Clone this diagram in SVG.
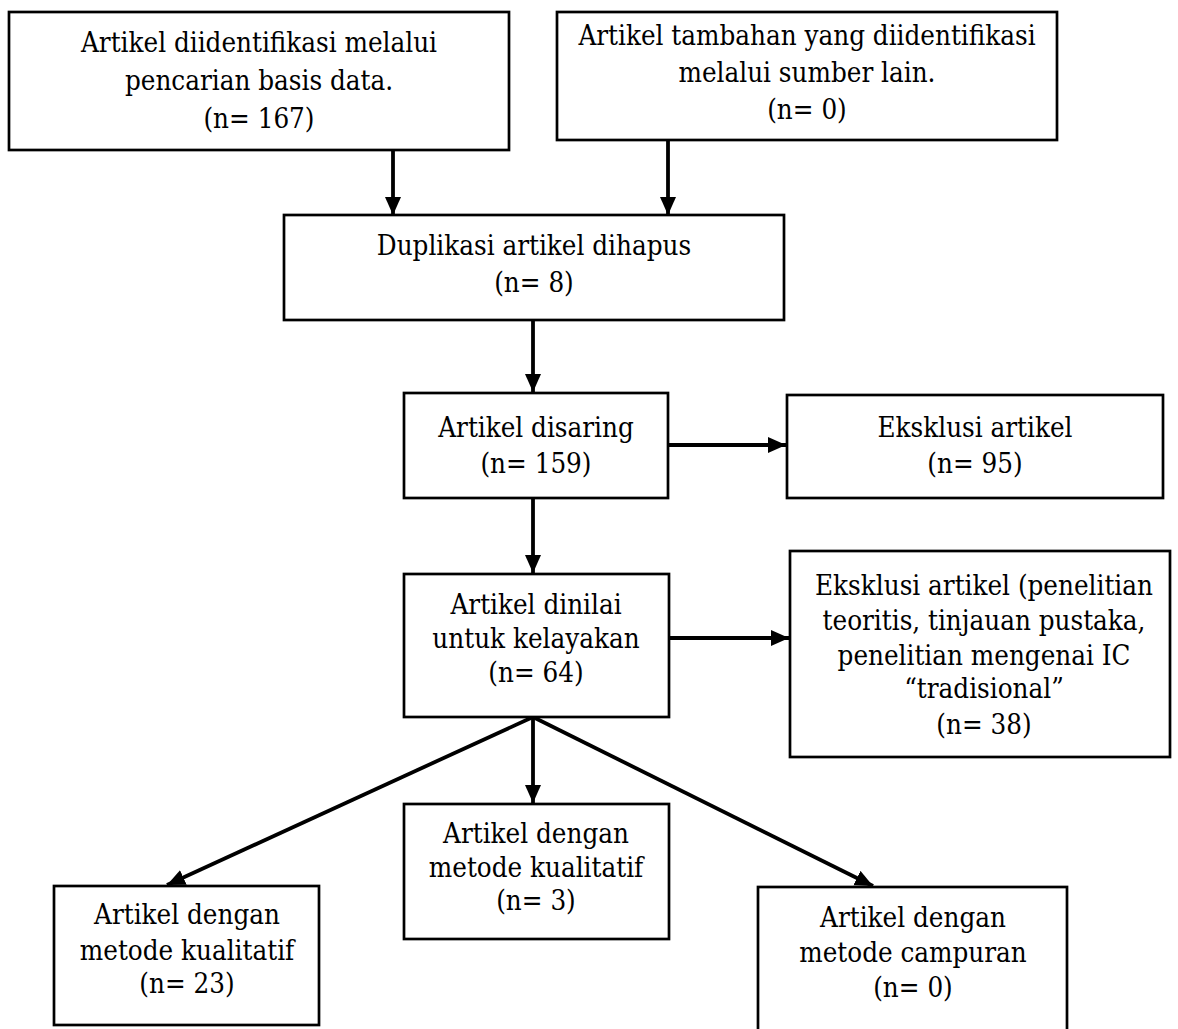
<svg xmlns="http://www.w3.org/2000/svg" width="1178" height="1029" viewBox="0 0 1178 1029">
<style>
.box{fill:#fff;stroke:#000;stroke-width:2.7}
.t{font-family:"DejaVu Serif Condensed","DejaVu Serif",serif;font-stretch:condensed;font-size:27.5px;fill:#000;text-anchor:middle}
.c{stroke:#000;stroke-width:3.8;fill:none;marker-end:url(#ah)}
</style>
<defs>
<marker id="ah" markerUnits="userSpaceOnUse" markerWidth="19" markerHeight="17" refX="18" refY="8" orient="auto" viewBox="0 0 19 17">
<path d="M0,0 L18,8 L0,16 z" fill="#000"/>
</marker>
</defs>
<rect width="1178" height="1029" fill="#fff"/>
<g id="connectors">
<line class="c" x1="393" y1="150" x2="393" y2="215"/>
<line class="c" x1="668" y1="140" x2="668" y2="215"/>
<line class="c" x1="533" y1="320" x2="533" y2="392"/>
<line class="c" x1="668" y1="445" x2="786" y2="445"/>
<line class="c" x1="533" y1="498" x2="533" y2="573"/>
<line class="c" x1="669" y1="638" x2="789" y2="638"/>
<line class="c" x1="533" y1="717" x2="167" y2="885"/>
<line class="c" x1="533" y1="717" x2="533" y2="803"/>
<line class="c" x1="533" y1="717" x2="873" y2="886"/>
</g>
<g id="n1">
<rect class="box" x="9" y="12" width="500" height="138"/>
<text class="t" x="259" y="52">Artikel diidentifikasi melalui</text>
<text class="t" x="259" y="90">pencarian basis data.</text>
<text class="t" x="259" y="128">(n= 167)</text>
</g>
<g id="n2">
<rect class="box" x="557" y="12" width="500" height="128"/>
<text class="t" x="807" y="45">Artikel tambahan yang diidentifikasi</text>
<text class="t" x="807" y="82">melalui sumber lain.</text>
<text class="t" x="807" y="119">(n= 0)</text>
</g>
<g id="n3">
<rect class="box" x="284" y="215" width="500" height="105"/>
<text class="t" x="534" y="255">Duplikasi artikel dihapus</text>
<text class="t" x="534" y="292">(n= 8)</text>
</g>
<g id="n4">
<rect class="box" x="404" y="393" width="264" height="105"/>
<text class="t" x="536" y="437">Artikel disaring</text>
<text class="t" x="536" y="473">(n= 159)</text>
</g>
<g id="n5">
<rect class="box" x="787" y="395" width="376" height="103"/>
<text class="t" x="975" y="437">Eksklusi artikel</text>
<text class="t" x="975" y="473">(n= 95)</text>
</g>
<g id="n6">
<rect class="box" x="404" y="574" width="265" height="143"/>
<text class="t" x="536" y="614">Artikel dinilai</text>
<text class="t" x="536" y="648">untuk kelayakan</text>
<text class="t" x="536" y="682">(n= 64)</text>
</g>
<g id="n7">
<rect class="box" x="790" y="551" width="380" height="206"/>
<text class="t" x="984" y="595">Eksklusi artikel (penelitian</text>
<text class="t" x="984" y="630">teoritis, tinjauan pustaka,</text>
<text class="t" x="984" y="665">penelitian mengenai IC</text>
<text class="t" x="984" y="698">“tradisional”</text>
<text class="t" x="984" y="734">(n= 38)</text>
</g>
<g id="n8">
<rect class="box" x="54" y="886" width="265" height="139"/>
<text class="t" x="187" y="924">Artikel dengan</text>
<text class="t" x="187" y="960">metode kualitatif</text>
<text class="t" x="187" y="993">(n= 23)</text>
</g>
<g id="n9">
<rect class="box" x="404" y="804" width="265" height="135"/>
<text class="t" x="536" y="843">Artikel dengan</text>
<text class="t" x="536" y="877">metode kualitatif</text>
<text class="t" x="536" y="910">(n= 3)</text>
</g>
<g id="n10">
<rect class="box" x="758" y="887" width="309" height="160"/>
<text class="t" x="913" y="927">Artikel dengan</text>
<text class="t" x="913" y="962">metode campuran</text>
<text class="t" x="913" y="997">(n= 0)</text>
</g>
</svg>
